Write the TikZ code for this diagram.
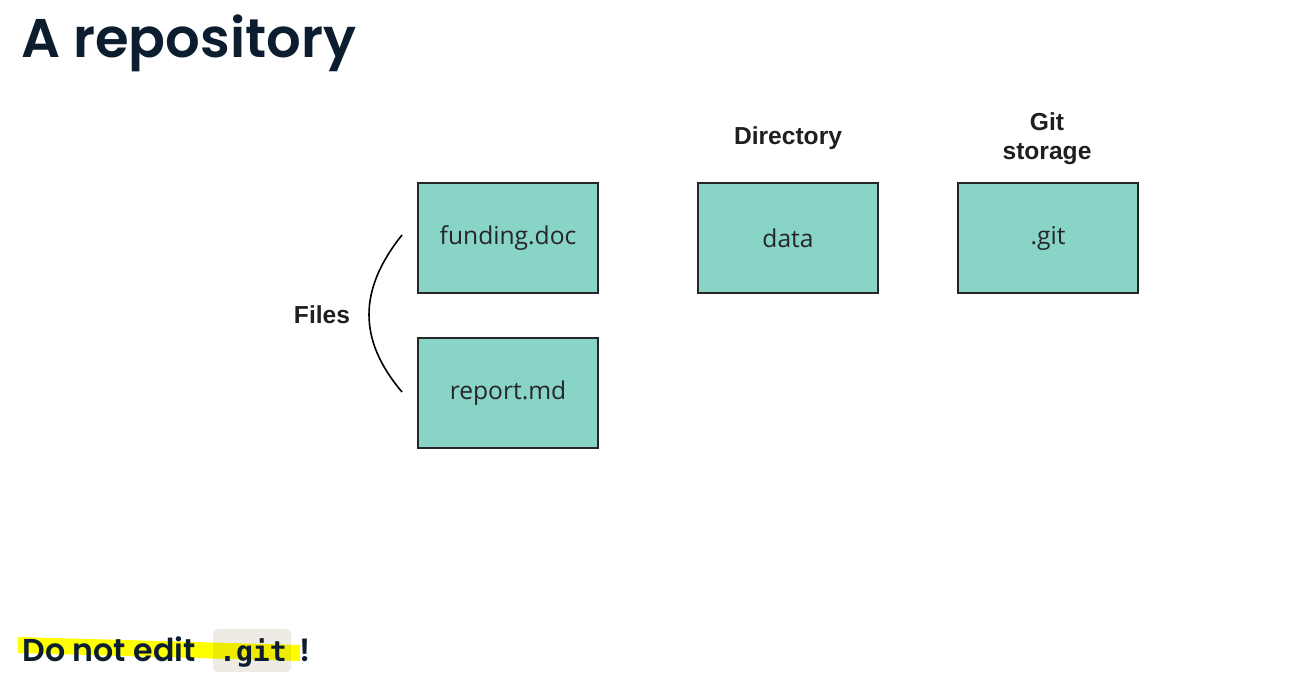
\documentclass[tikz,border=0pt]{standalone}
\usepackage{fontspec}
\usepackage{xcolor}
\usepackage{tikz}
\setmainfont{Open Sans}
\newfontfamily\titlefont{Poppins}[UprightFont={* SemiBold}, BoldFont={* SemiBold}]
\newfontfamily\labelfont{Liberation Sans}
\newfontfamily\codefont{DejaVu Sans Mono}
\definecolor{repoNavy}{HTML}{0B1D2E}
\definecolor{boxTeal}{HTML}{88D4C6}
\definecolor{codeGray}{HTML}{EEEAE4}
\definecolor{markYellow}{HTML}{FFFF00}

\tikzset{
  filebox/.style={draw=black!85, line width=0.8pt, fill=boxTeal, minimum width=3.6cm, minimum height=2.2cm,
    text=black!85, font=\fontsize{14}{16}\selectfont},
  boxlabel/.style={font=\labelfont\bfseries\fontsize{14}{16.5}\selectfont, text=black!88, align=center}
}

\begin{document}
\begin{tikzpicture}[x=0.02cm, y=-0.02cm]
                \useasboundingbox (0, 0) rectangle (1304, 675);
                \node[anchor=base west, inner sep=0, text=repoNavy, font=\titlefont\fontsize{31}{38}\selectfont] (title) at (21, 58) {A repository};
                % boxes
                \node[filebox] (funding) at (508, 238) {funding.doc};
                \node[filebox] (report) at (508, 393) {report.md};
                \node[filebox] (data) at (788, 238) {data};
                \node[filebox] (git) at (1048, 238) {.git};
                \node[boxlabel] (dirlabel) at (788, 138) {Directory};
                \node[boxlabel] (gitlabel) at (1047, 139) {Git\\[0pt]storage};
                \node[boxlabel] (fileslabel) at (322, 315) {Files};
                \coordinate (bt) at (402, 235);
                \coordinate (bb) at (402, 392);
                \draw[line width=0.9pt] (bt) .. controls (358, 290) and (358, 340) .. (bb);
                % warning line
                \node[fill=codeGray, rounded corners=5*0.02cm, minimum width=78*0.02cm, minimum height=43*0.02cm, inner sep=0] (code) at (252, 650.5) {};
                \begin{scope}[blend mode=multiply]
                    \draw[markYellow, line width=16*0.02cm] (18, 645) -- (300, 653);
                \end{scope}
                \node[anchor=base west, inner sep=0, text=repoNavy, font=\titlefont\fontsize{18}{22}\selectfont] (warn) at (22, 661) {Do not edit};
                \node[anchor=base, inner sep=0, text=repoNavy, font=\codefont\bfseries\fontsize{16}{18}\selectfont] (codetext) at (253, 661) {.git};
                \node[anchor=base west, inner sep=0, text=repoNavy, font=\titlefont\fontsize{18}{22}\selectfont] (bang) at (299, 661) {!};
\end{tikzpicture}
\end{document}
